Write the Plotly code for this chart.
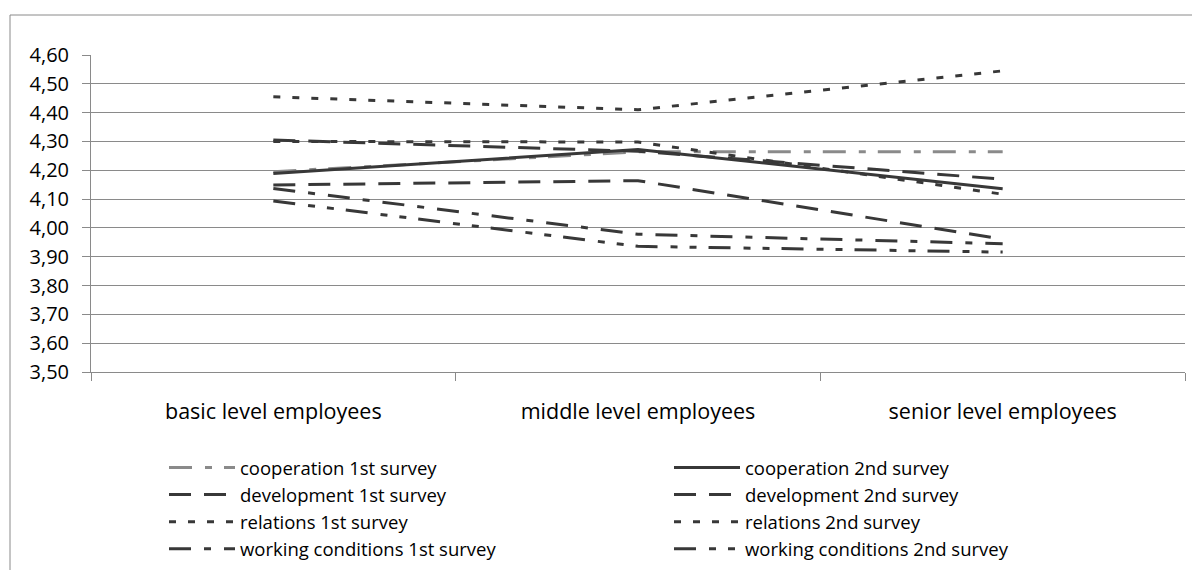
import plotly.graph_objects as go

categories = ["basic level employees", "middle level employees", "senior level employees"]

cooperation_1st = [4.195, 4.264, 4.264]
cooperation_2nd = [4.189, 4.272, 4.136]
development_1st = [4.149, 4.164, 3.961]
development_2nd = [4.305, 4.266, 4.169]
relations_1st = [4.455, 4.410, 4.545]
relations_2nd = [4.300, 4.298, 4.117]
working_1st = [4.137, 3.978, 3.945]
working_2nd = [4.093, 3.936, 3.916]

series_names = [
    "cooperation 1st survey", "cooperation 2nd survey",
    "development 1st survey", "development 2nd survey",
    "relations 1st survey", "relations 2nd survey",
    "working conditions 1st survey", "working conditions 2nd survey",
]
series_values = [cooperation_1st, cooperation_2nd, development_1st, development_2nd,
                 relations_1st, relations_2nd, working_1st, working_2nd]

DARK = "#383838"
GRAY = "#8a8a8a"
styles = [
    dict(color=GRAY, dash="23px,13px,7px,12px"),
    dict(color=DARK, dash="solid"),
    dict(color=DARK, dash="22px,13px"),
    dict(color=DARK, dash="22px,13px"),
    dict(color=DARK, dash="7px,12px"),
    dict(color=DARK, dash="7px,12px"),
    dict(color=DARK, dash="22px,13px,7px,13px"),
    dict(color=DARK, dash="22px,13px,7px,12px,7px,12px"),
]

FONT = "Open Sans"
fig = go.Figure()
for name, vals, st in zip(series_names, series_values, styles):
    fig.add_trace(go.Scatter(
        x=categories, y=vals, name=name, mode="lines",
        line=dict(color=st["color"], dash=st["dash"], width=3),
    ))

L, R, T, B = 91, 7, 55, 198
W, H = 1192, 570
pw, ph = W - L - R, H - T - B

def px_x(p):
    return (p - L) / pw

def px_y(p):
    return (H - B - p) / ph

fig.update_layout(
    width=W, height=H, autosize=False,
    margin=dict(l=L, r=R, t=T, b=B, pad=0, autoexpand=False),
    paper_bgcolor="white", plot_bgcolor="white",
    separators=", ",
    font=dict(family=FONT, size=19, color="#000000"),
    showlegend=True,
    legend=dict(
        orientation="h", x=px_x(164), y=px_y(449), xanchor="left", yanchor="top",
        entrywidth=424, entrywidthmode="pixels", itemwidth=66,
        font=dict(family=FONT, size=18.5, color="#000000"),
        traceorder="normal", bgcolor="rgba(0,0,0,0)",
    ),
    xaxis=dict(
        type="category", range=[-0.5, 2.5], showgrid=False,
        showline=True, linecolor=GRAY, linewidth=1,
        ticks="outside", tickson="boundaries", ticklen=8, tickcolor=GRAY,
        ticklabelstandoff=20, tickfont=dict(family=FONT, size=21.5, color="#000000"),
        fixedrange=True,
    ),
    yaxis=dict(
        range=[3.5, 4.6], dtick=0.1, tick0=3.5, tickformat=".2f",
        showgrid=True, gridcolor=GRAY, gridwidth=1,
        showline=True, linecolor=GRAY, linewidth=1,
        ticks="outside", ticklen=8, tickcolor=GRAY,
        ticklabelstandoff=9, tickfont=dict(family=FONT, size=20, color="#000000"),
        zeroline=False, fixedrange=True,
    ),
    shapes=[dict(
        type="rect", xref="paper", yref="paper",
        x0=px_x(10), x1=px_x(1200), y0=px_y(15), y1=px_y(580),
        line=dict(color=GRAY, width=1), fillcolor="rgba(0,0,0,0)", layer="below",
    )],
)

fig.write_html("out.html")
